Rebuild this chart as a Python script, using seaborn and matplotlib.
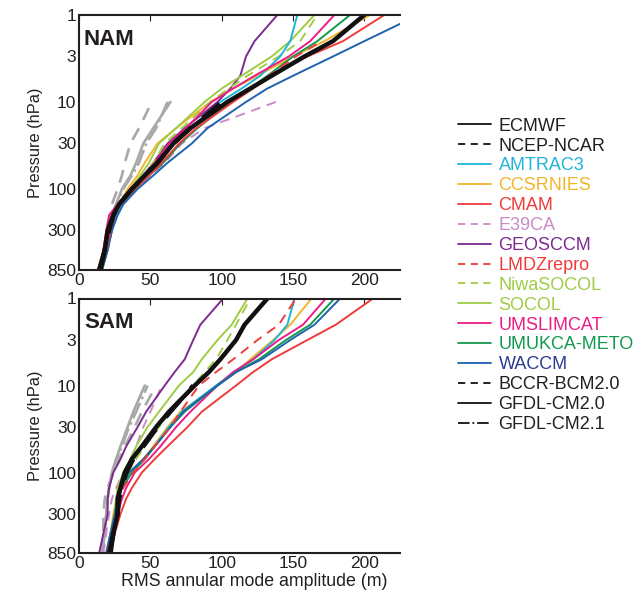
import numpy as np
import pandas as pd
import matplotlib
matplotlib.use("Agg")
import matplotlib.pyplot as plt
from matplotlib.lines import Line2D
import seaborn as sns

sns.set_theme(style="white")
plt.rcParams['font.family'] = ['Liberation Sans', 'DejaVu Sans']

nan = np.nan
pressure = [850, 500, 300, 200, 150, 100, 70, 50, 30, 20, 10, 7, 5, 3, 2, 1]
ytick_vals = [1, 3, 10, 30, 100, 300, 850]
xtick_vals = [0, 50, 100, 150, 200]

models = ["ECMWF", "NCEP-NCAR", "AMTRAC3", "CCSRNIES", "CMAM", "E39CA", "GEOSCCM",
          "LMDZrepro", "NiwaSOCOL", "SOCOL", "UMSLIMCAT", "UMUKCA-METO", "WACCM",
          "BCCR-BCM2.0", "GFDL-CM2.0", "GFDL-CM2.1"]

def pad(v):
    return list(v) + [nan] * (len(pressure) - len(v))

nam = {
    "ECMWF":       [14, 18, 20, 24, 28, 37, 46, 55, 66, 78, 104, 120, 135, 158, 178, 200],
    "NCEP-NCAR":   pad([15, 18, 21, 24, 28, 37, 46, 55, 66, 78, 100]),
    "AMTRAC3":     [16, 20, 23, 26, 30, 40, 48, 56, 67, 78, 99, 114, 127, 141, 148, 153],
    "CCSRNIES":    [15, 19, 22, 25, 28, 34, 41, 46, 55, 68, 92, 108, 125, 150, 172, 204],
    "CMAM":        [15, 19, 22, 25, 29, 39, 49, 58, 70, 82, 108, 122, 134, 160, 185, 214],
    "E39CA":       pad([16, 20, 23, 26, 30, 40, 50, 60, 72, 88, 138]),
    "GEOSCCM":     [16, 20, 22, 25, 29, 37, 45, 52, 62, 74, 97, 106, 113, 117, 123, 139],
    "LMDZrepro":   pad([15, 19, 22, 25, 29, 38, 47, 56, 67, 79, 103, 119, 133, 152, 170]),
    "NiwaSOCOL":   [16, 20, 22, 25, 29, 37, 45, 52, 60, 72, 92, 105, 118, 140, 155, 167],
    "SOCOL":       [16, 20, 22, 25, 29, 36, 43, 49, 56, 68, 88, 100, 114, 135, 148, 165],
    "UMSLIMCAT":   [14, 17, 19, 21, 27, 36, 45, 53, 63, 75, 93, 108, 123, 147, 162, 179],
    "UMUKCA-METO": [15, 19, 22, 25, 29, 39, 49, 59, 71, 83, 106, 120, 132, 150, 167, 190],
    "WACCM":       [16, 20, 23, 27, 31, 41, 52, 62, 79, 90, 117, 132, 150, 178, 200, 238],
    "BCCR-BCM2.0": pad([15, 19, 21, 22, 23, 27, 30, 32, 36, 42, 51]),
    "GFDL-CM2.0":  pad([15, 19, 21, 23, 26, 30, 36, 40, 45, 52, 64]),
    "GFDL-CM2.1":  pad([15, 19, 21, 23, 26, 31, 37, 42, 47, 54, 62]),
}

sam = {
    "ECMWF":       [22, 24, 27, 27, 29, 32, 37, 44, 54, 63, 81, 91, 99, 110, 116, 132],
    "NCEP-NCAR":   pad([21, 24, 27, 28, 30, 33, 38, 45, 55, 64, 80]),
    "AMTRAC3":     [19, 22, 25, 27, 30, 37, 46, 53, 63, 72, 96, 109, 122, 137, 146, 151],
    "CCSRNIES":    [19, 22, 24, 26, 29, 36, 45, 52, 62, 71, 97, 110, 120, 136, 148, 163],
    "CMAM":        [22, 25, 29, 33, 37, 44, 53, 62, 76, 86, 110, 122, 135, 160, 180, 206],
    "E39CA":       pad([17, 19, 21, 23, 26, 31, 36, 40, 45, 50, 58]),
    "GEOSCCM":     [14, 17, 20, 20, 21, 24, 29, 33, 41, 47, 60, 67, 74, 80, 85, 101],
    "LMDZrepro":   [20, 23, 26, 28, 31, 38, 46, 53, 64, 71, 84, 96, 108, 125, 140, 152],
    "NiwaSOCOL":   [20, 23, 26, 27, 29, 34, 40, 46, 56, 64, 80, 88, 96, 104, 110, 120],
    "SOCOL":       [23, 24, 25, 26, 27, 31, 36, 40, 48, 56, 70, 80, 86, 97, 107, 118],
    "UMSLIMCAT":   [21, 24, 27, 30, 33, 39, 49, 57, 68, 78, 97, 108, 122, 140, 157, 173],
    "UMUKCA-METO": [20, 23, 26, 28, 30, 37, 46, 53, 64, 74, 97, 110, 126, 145, 162, 179],
    "WACCM":       [19, 22, 25, 27, 29, 35, 45, 53, 64, 73, 97, 110, 128, 148, 165, 183],
    "BCCR-BCM2.0": pad([16, 17, 17, 18, 20, 24, 28, 32, 39, 44, 54]),
    "GFDL-CM2.0":  pad([16, 18, 19, 20, 21, 23, 26, 29, 34, 38, 46]),
    "GFDL-CM2.1":  pad([16, 18, 19, 20, 21, 23, 26, 30, 35, 40, 48]),
}

grey = "#a8a8a8"
colors = {
    "ECMWF": "#111111", "NCEP-NCAR": "#111111", "AMTRAC3": "#1fb4d8",
    "CCSRNIES": "#f2b52a", "CMAM": "#ef3b3b", "E39CA": "#c98bc6",
    "GEOSCCM": "#7d2b8f", "LMDZrepro": "#ef3b3b", "NiwaSOCOL": "#9fcc45",
    "SOCOL": "#9fcc45", "UMSLIMCAT": "#eb1d85", "UMUKCA-METO": "#13994f",
    "WACCM": "#1f62ad", "BCCR-BCM2.0": grey, "GFDL-CM2.0": grey, "GFDL-CM2.1": grey,
}
legend_colors = dict(colors)
legend_colors.update({"BCCR-BCM2.0": "#111111", "GFDL-CM2.0": "#111111", "GFDL-CM2.1": "#111111"})
text_colors = dict(legend_colors)
text_colors["WACCM"] = "#2b3a92"
for k in ["ECMWF", "NCEP-NCAR", "BCCR-BCM2.0", "GFDL-CM2.0", "GFDL-CM2.1"]:
    text_colors[k] = "#231f20"
styles = {
    "ECMWF": "-", "NCEP-NCAR": "--", "AMTRAC3": "-", "CCSRNIES": "-", "CMAM": "-",
    "E39CA": "--", "GEOSCCM": "-", "LMDZrepro": "--", "NiwaSOCOL": "--", "SOCOL": "-",
    "UMSLIMCAT": "-", "UMUKCA-METO": "-", "WACCM": "-", "BCCR-BCM2.0": "--",
    "GFDL-CM2.0": "-", "GFDL-CM2.1": "-.",
}
widths = {m: 1.4 for m in models}
widths["ECMWF"] = 3.2
widths["NCEP-NCAR"] = 3.2
widths["BCCR-BCM2.0"] = 1.9
widths["GFDL-CM2.0"] = 1.9
widths["GFDL-CM2.1"] = 1.9

draw_order = ["BCCR-BCM2.0", "GFDL-CM2.0", "GFDL-CM2.1", "E39CA", "GEOSCCM", "CCSRNIES",
              "SOCOL", "NiwaSOCOL", "AMTRAC3", "UMSLIMCAT", "UMUKCA-METO", "WACCM",
              "CMAM", "LMDZrepro", "ECMWF", "NCEP-NCAR"]

fig = plt.figure(figsize=(6.33, 5.97), dpi=100)
ax1 = fig.add_axes([0.125, 0.548, 0.507, 0.427])
ax2 = fig.add_axes([0.125, 0.073, 0.507, 0.427])

for ax, data, name in [(ax1, nam, "NAM"), (ax2, sam, "SAM")]:
    for m in draw_order:
        df = pd.DataFrame({"amp": data[m], "p": pressure}).dropna()
        ls = styles[m]
        sns.lineplot(data=df, x="amp", y="p", sort=False, estimator=None, ax=ax,
                     color=colors[m], linewidth=widths[m], legend=False)
        ln = ax.lines[-1]
        ln.set_linestyle(ls)
        if ls == "--":
            ln.set_dashes((5, 3.5))
        ln.set_solid_joinstyle("round")
    ax.set_yscale("log")
    ax.set_ylim(850, 1)
    ax.set_xlim(0, 225)
    ax.set_yticks(ytick_vals)
    ax.set_yticklabels([str(v) for v in ytick_vals])
    ax.set_yticks([2, 5, 20, 50, 200, 500], minor=True)
    ax.set_yticklabels([], minor=True)
    ax.set_xticks(xtick_vals)
    ax.set_xticklabels([str(v) for v in xtick_vals])
    ax.tick_params(axis="both", which="both", direction="in", top=True, right=False,
                   labelsize=12.5, colors="#231f20", length=4, width=0.8, pad=2)
    ax.tick_params(axis="y", which="minor", length=3)
    for s in ["left", "bottom", "top"]:
        ax.spines[s].set_color("#231f20")
        ax.spines[s].set_linewidth(1.5)
    ax.spines["right"].set_visible(False)
    ax.set_ylabel("Pressure (hPa)", fontsize=11.8, color="#231f20", labelpad=3)
    ax.set_xlabel("")
    ax.text(0.015, 0.905, name, transform=ax.transAxes, fontsize=16, fontweight="bold",
            color="#231f20", va="center", ha="left")
    ax.grid(False)

ax2.set_xlabel("RMS annular mode amplitude (m)", fontsize=12.8, color="#231f20")
ax2.xaxis.set_label_coords(0.545, -0.075)

handles = []
for m in models:
    h = Line2D([], [], color=legend_colors[m], linestyle=styles[m], linewidth=1.3)
    if styles[m] == "--":
        h.set_dashes((4, 3))
    handles.append(h)
leg = fig.legend(handles, models, loc="upper left", bbox_to_anchor=(0.712, 0.815),
                 frameon=False, fontsize=13, handlelength=1.85, handletextpad=0.4,
                 labelspacing=0.16, borderaxespad=0)
for t, m in zip(leg.get_texts(), models):
    t.set_color(text_colors[m])

fig.savefig("out.png", dpi=100)
